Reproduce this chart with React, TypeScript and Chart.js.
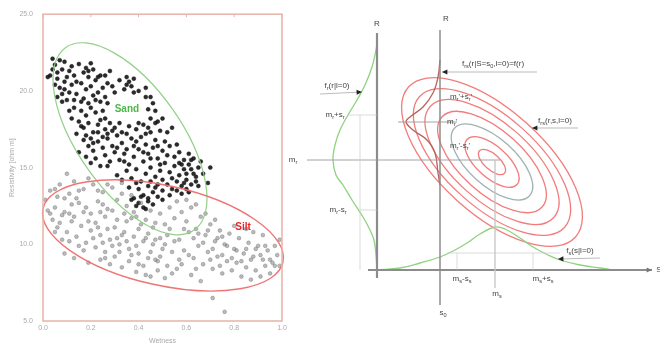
import React, { useEffect, useRef } from "react";
import { Chart, registerables } from "chart.js";
Chart.register(...registerables);

// ---------------- Left panel data ----------------
const X_TICKS = [0, 0.2, 0.4, 0.6, 0.8, 1.0];
const Y_TICKS = [5, 10, 15, 20, 25];
const X_TITLE = "Wetness";
const Y_TITLE = "Resistivity [ohm m]";

const SAND: number[][] = [
  [0.04,22.1],[0.05,21.7],[0.03,21.0],[0.06,20.8],[0.08,21.4],[0.07,20.2],[0.05,20.4],[0.09,21.9],[0.10,20.9],[0.11,21.3],
  [0.02,20.9],[0.08,19.8],[0.10,19.4],[0.06,19.6],[0.12,20.4],[0.09,20.6],[0.13,21.0],[0.04,21.4],[0.07,22.0],[0.11,19.9],
  [0.15,21.75],[0.17,21.2],[0.19,20.9],[0.21,21.4],[0.16,20.5],[0.18,20.1],[0.20,20.3],[0.22,20.7],[0.24,21.0],[0.14,19.8],
  [0.17,19.5],[0.19,19.2],[0.21,19.7],[0.23,19.9],[0.25,20.2],[0.13,18.9],[0.16,18.7],[0.18,18.4],[0.20,18.9],[0.22,18.6],
  [0.24,19.3],[0.15,18.0],[0.17,17.6],[0.19,17.9],[0.21,17.3],[0.23,17.8],[0.26,18.2],[0.14,17.2],[0.12,18.2],[0.25,17.0],
  [0.20,21.8],[0.18,21.5],[0.23,20.9],[0.26,19.6],[0.27,20.5],
  [0.28,21.3],[0.32,20.7],[0.35,20.9],[0.36,20.6],[0.37,20.3],[0.35,20.4],[0.40,20.0],[0.43,20.2],[0.45,19.6],[0.30,19.9],
  [0.38,19.9],[0.44,18.8],[0.47,18.7],[0.48,18.0],[0.29,20.3],
  [0.17,16.8],[0.19,16.4],[0.21,16.1],[0.23,16.7],[0.25,16.3],[0.27,16.9],[0.29,17.4],[0.31,17.1],[0.33,16.6],[0.35,17.2],
  [0.37,16.9],[0.39,17.5],[0.41,17.0],[0.43,16.5],[0.45,17.3],[0.47,16.8],[0.49,17.4],[0.15,16.0],[0.18,15.7],[0.20,15.3],
  [0.22,15.6],[0.24,15.1],[0.26,15.8],[0.28,15.4],[0.30,16.0],[0.32,15.5],[0.34,15.9],[0.36,15.2],[0.38,15.7],[0.40,16.2],
  [0.42,15.4],[0.44,15.9],[0.46,16.3],[0.48,15.6],[0.50,16.1],[0.28,17.9],[0.32,17.9],[0.36,17.7],[0.40,17.9],[0.44,17.6],
  [0.23,17.3],[0.26,17.5],[0.29,16.4],[0.35,16.2],[0.38,16.4],[0.50,18.2],[0.52,17.3],[0.54,17.6],[0.51,16.7],[0.53,16.4],
  [0.35,14.8],[0.37,14.3],[0.39,14.9],[0.41,14.1],[0.43,14.6],[0.45,15.0],[0.47,14.4],[0.49,14.8],[0.51,15.3],[0.53,14.7],
  [0.55,15.1],[0.57,14.5],[0.59,14.9],[0.61,15.2],[0.63,14.6],[0.65,15.0],[0.40,13.6],[0.42,13.2],[0.44,13.8],[0.46,13.4],
  [0.48,13.9],[0.50,13.5],[0.52,13.9],[0.54,13.6],[0.56,14.1],[0.58,13.8],[0.60,14.2],[0.62,13.9],[0.64,14.1],[0.55,15.7],
  [0.57,16.0],[0.59,15.5],[0.61,15.9],[0.63,15.6],[0.66,15.4],[0.70,15.0],[0.69,14.0],[0.33,14.2],[0.36,13.7],[0.31,14.5],
  [0.58,13.3],[0.60,13.6],
  [0.38,13.0],[0.40,12.7],[0.42,12.4],[0.44,12.8],[0.46,12.6],[0.41,13.1],[0.37,12.9],[0.48,13.1],[0.50,12.9],[0.43,12.3],
  [0.06,21.2],[0.09,20.1],[0.12,21.6],[0.14,20.6],[0.16,19.3],[0.19,21.3],[0.22,19.4],[0.24,18.1],[0.13,19.4],[0.18,17.1],
  [0.21,16.6],[0.25,18.7],[0.27,17.2],[0.30,17.6],[0.27,19.2],[0.34,20.1],[0.38,20.8],[0.43,19.6],[0.46,19.2],[0.45,18.2],
  [0.33,17.3],[0.39,16.7],[0.42,16.0],[0.45,15.6],[0.48,16.4],[0.52,15.8],[0.56,16.5],[0.58,15.2],[0.60,14.6],[0.62,15.5],
  [0.64,14.4],[0.67,14.6],[0.54,14.3],[0.50,14.2],[0.47,13.7],[0.45,14.1],[0.53,13.2],[0.56,13.5],[0.59,14.0],[0.61,13.4],
  [0.39,14.0],[0.34,15.4],[0.27,15.1],[0.31,16.3],[0.20,16.9],[0.16,17.7],[0.11,18.7],[0.08,19.3],[0.42,17.8],[0.43,17.2],
  [0.47,17.9],[0.26,21.0],[0.57,15.3],[0.49,15.2],[0.44,13.0],[0.39,12.5],[0.62,14.9],[0.65,13.8],
];

const SILT: number[][] = [
  [0.01,12.9],[0.03,13.5],[0.05,12.4],[0.07,13.9],[0.09,12.1],[0.11,13.3],[0.13,14.1],[0.15,12.7],[0.17,13.6],[0.19,14.3],
  [0.04,11.6],[0.06,11.1],[0.08,11.9],[0.10,10.8],[0.12,11.5],[0.14,10.5],[0.16,11.2],[0.18,10.1],[0.20,10.9],[0.02,12.2],
  [0.10,14.6],[0.14,13.0],[0.18,12.4],[0.06,13.1],[0.12,12.6],[0.09,9.4],[0.13,9.1],[0.17,9.6],[0.19,8.8],[0.08,10.3],
  [0.21,13.9],[0.23,12.8],[0.25,13.4],[0.27,12.3],[0.29,13.7],[0.31,12.9],[0.33,14.0],[0.35,12.5],[0.37,13.2],[0.39,11.8],
  [0.41,12.7],[0.43,11.6],[0.45,12.2],[0.47,11.4],[0.49,12.0],[0.51,11.3],[0.53,12.4],[0.55,11.7],[0.22,11.4],[0.24,10.6],
  [0.26,11.8],[0.28,10.3],[0.30,11.1],[0.32,10.0],[0.34,10.8],[0.36,9.7],[0.38,10.5],[0.40,9.4],[0.42,10.2],[0.44,9.1],
  [0.46,10.0],[0.48,8.9],[0.50,9.7],[0.52,8.6],[0.54,9.5],[0.22,9.8],[0.24,9.0],[0.26,9.5],[0.28,8.7],[0.30,9.2],
  [0.33,8.5],[0.36,8.9],[0.39,8.2],[0.42,8.6],[0.45,7.9],[0.48,8.3],[0.51,7.8],[0.54,8.1],[0.25,10.1],[0.31,10.4],
  [0.35,11.5],[0.40,11.0],[0.44,10.7],[0.27,13.9],[0.33,13.3],[0.38,12.1],[0.46,11.1],[0.52,10.6],[0.29,9.9],[0.37,9.3],
  [0.43,8.0],[0.49,10.4],[0.24,12.1],[0.20,12.0],[0.34,12.0],
  [0.56,12.8],[0.58,12.1],[0.60,11.5],[0.62,12.4],[0.64,11.0],[0.66,11.8],[0.68,10.6],[0.70,11.3],[0.72,10.2],[0.74,10.9],
  [0.76,10.0],[0.78,10.7],[0.80,9.7],[0.82,10.4],[0.84,9.4],[0.86,10.1],[0.88,9.2],[0.90,9.9],[0.92,9.0],[0.94,9.6],
  [0.96,8.8],[0.98,9.3],[0.99,8.6],[0.57,10.3],[0.59,9.6],[0.61,10.8],[0.63,9.1],[0.65,9.9],[0.67,8.7],[0.69,9.5],
  [0.71,8.4],[0.73,9.2],[0.75,8.1],[0.77,8.9],[0.79,8.3],[0.81,8.8],[0.83,7.9],[0.85,8.5],[0.87,7.7],[0.89,8.3],
  [0.91,7.9],[0.93,8.6],[0.95,8.1],[0.62,8.0],[0.66,7.6],[0.58,8.7],[0.97,9.9],[0.99,10.3],[0.72,11.6],[0.80,11.2],
  [0.68,12.0],[0.71,6.5],[0.76,5.6],[0.60,12.9],[0.64,12.6],[0.75,10.5],[0.85,11.0],[0.92,10.6],[0.88,10.8],
  [0.03,12.0],[0.05,13.6],[0.07,11.4],[0.09,13.0],[0.11,12.0],[0.13,11.8],[0.15,13.5],[0.17,12.1],[0.19,11.5],[0.21,10.4],
  [0.23,11.1],[0.25,12.6],[0.27,11.0],[0.29,12.2],[0.31,11.6],[0.33,10.6],[0.35,10.2],[0.37,11.7],[0.39,9.9],[0.41,11.3],
  [0.43,10.4],[0.45,9.5],[0.47,10.3],[0.49,9.2],[0.51,10.0],[0.53,11.0],[0.55,10.2],[0.57,9.0],[0.59,11.0],[0.61,9.3],
  [0.63,10.4],[0.65,10.7],[0.67,10.1],[0.69,10.9],[0.71,9.7],[0.73,10.4],[0.75,9.3],[0.77,9.9],[0.79,9.1],[0.81,9.6],
  [0.83,8.9],[0.85,9.7],[0.87,9.0],[0.89,9.7],[0.91,9.3],[0.93,9.9],[0.95,9.0],[0.97,8.6],[0.26,9.1],[0.32,9.5],
  [0.40,8.7],[0.47,9.0],[0.56,8.4],[0.64,8.4],[0.70,9.0],[0.74,8.6],[0.15,9.9],[0.11,10.2],[0.05,10.8],[0.23,13.5],
];

// ellipse = [center, major-axis vertex, co-vertex] in data units
const SAND_ELLIPSE: number[][] = [[0.364, 16.88], [0.633, 10.93], [0.186, 14.95]];
const SILT_ELLIPSE: number[][] = [[0.502, 10.58], [1.004, 8.83], [0.548, 13.75]];
const REGION_NAMES = ["Sand", "Silt"];
const REGION_LABEL_AT: number[][] = [[0.351, 18.8], [0.837, 11.1]];

// ---------------- Right panel (schematic) data, units: s (horizontal), r (vertical) ----------------
const FR_CURVE: number[][] = [
  [0, 22.7], [-0.1, 22.0], [-0.5, 20.3], [-1.2, 18.5], [-2.0, 17.0], [-2.9, 15.5], [-3.7, 14.0], [-4.2, 12.5],
  [-4.4, 11.0], [-4.1, 9.5], [-3.4, 8.5], [-2.5, 7.0], [-1.4, 5.3], [-0.7, 4.0], [-0.3, 3.0], [-0.1, 1.5], [0, 0],
];
const FS_CURVE: number[][] = [
  [0, 0], [2.3, 0.2], [4.3, 0.7], [6.3, 1.3], [7.8, 2.0], [9.0, 2.7], [10.3, 3.6], [11.8, 4.3], [12.8, 4.1],
  [14.3, 3.2], [15.6, 2.3], [17.1, 1.5], [18.3, 1.0], [20.3, 0.5], [22.3, 0.2], [23.8, 0],
];
const FRS_COND_CURVE: number[][] = [
  [6.3, 21.0], [6.1, 19.3], [5.6, 17.7], [4.6, 16.3], [3.3, 15.3], [2.9, 14.8], [3.6, 14.0], [5.0, 13.0],
  [5.8, 11.7], [6.1, 9.7], [6.3, 8.5],
];
const AXES: number[][][] = [
  [[0, -0.8], [0, 23.7]],
  [[6.3, -3.5], [6.3, 24.0]],
  [[-0.9, 0], [27.5, 0]],
];
const GUIDES_DARK: number[][][] = [
  [[-7.0, 11.0], [12.3, 11.0]],
  [[2.1, 14.8], [8.0, 14.8]],
];
const GUIDES_LIGHT: number[][][] = [
  [[11.8, 11.0], [11.8, -1.8]],
  [[-1.7, 0], [-1.7, 15.5]],
  [[-3.0, 15.5], [0, 15.5]],
  [[-1.7, 6.0], [0, 6.0]],
  [[7.0, 1.7], [18.3, 1.7]],
  [[8.0, 0], [8.0, 1.7]],
  [[15.6, 0], [15.6, 1.7]],
];
const CONTOUR_ELLIPSE: number[][] = [[11.5, 10.8], [19.85, 3.3], [14.98, 14.66]];
const CONTOUR_LEVELS = [1.0, 0.87, 0.74, 0.6, 0.45, 0.3, 0.15];
const CONTOUR_IS_GREY = [false, false, false, false, true, false, false];
// pointers: [from, to] (arrowhead at "to")
const POINTERS: number[][][] = [
  [[-5.7, 17.6], [-1.5, 17.8]],
  [[16.0, 19.8], [6.5, 19.8]],
  [[20.1, 14.2], [15.5, 14.2]],
  [[22.3, 1.2], [18.1, 1.1]],
];
const LABEL_TEXTS = [
  "R", "R", "S", "f_{r}(r|l=0)", "m_{r}+s_{r}", "m_{r}", "m_{r}-s_{r}",
  "f_{rs}(r|S=s_{0},l=0)=f(r)", "m_{r}'+s_{r}'", "m_{r}'", "m_{r}'-s_{r}'",
  "f_{rs}(r,s,l=0)", "f_{s}(s|l=0)", "m_{s}-s_{s}", "m_{s}", "m_{s}+s_{s}", "s_{0}",
];
const LABEL_AT: number[][] = [
  [0, 24.6], [6.9, 25.1], [28.2, 0], [-4.0, 18.4], [-4.2, 15.5], [-8.4, 11.0], [-3.9, 6.0],
  [11.6, 20.6], [8.4, 17.3], [7.5, 14.8], [8.3, 12.4],
  [17.8, 14.9], [20.3, 1.9], [8.5, -0.9], [12.0, -2.4], [16.6, -0.9], [6.6, -4.3],
];

const FONT = '"Liberation Sans", Arial, sans-serif';

function drawRich(ctx: CanvasRenderingContext2D, text: string, x: number, y: number, size: number, color: string) {
  const parts: { t: string; sub: boolean }[] = [];
  let i = 0;
  while (i < text.length) {
    if (text[i] === "_") {
      if (text[i + 1] === "{") {
        const j = text.indexOf("}", i);
        parts.push({ t: text.slice(i + 2, j), sub: true });
        i = j + 1;
      } else {
        parts.push({ t: text[i + 1], sub: true });
        i += 2;
      }
    } else {
      let j = i;
      while (j < text.length && text[j] !== "_") j++;
      parts.push({ t: text.slice(i, j), sub: false });
      i = j;
    }
  }
  const sub = size * 0.7;
  const widths = parts.map((p) => {
    ctx.font = `${p.sub ? sub : size}px ${FONT}`;
    return ctx.measureText(p.t).width;
  });
  const total = widths.reduce((a, b) => a + b, 0);
  let cx = x - total / 2;
  ctx.fillStyle = color;
  ctx.textBaseline = "middle";
  ctx.textAlign = "left";
  parts.forEach((p, k) => {
    ctx.font = `${p.sub ? sub : size}px ${FONT}`;
    ctx.fillText(p.t, cx, p.sub ? y + size * 0.3 : y);
    cx += widths[k];
  });
}

function strokeEllipse(chart: any, e: number[][], f: number, color: string, width: number) {
  const xs = chart.scales.x, ys = chart.scales.y, ctx = chart.ctx;
  const cx = xs.getPixelForValue(e[0][0]), cy = ys.getPixelForValue(e[0][1]);
  const mx = xs.getPixelForValue(e[1][0]) - cx, my = ys.getPixelForValue(e[1][1]) - cy;
  const nx = xs.getPixelForValue(e[2][0]) - cx, ny = ys.getPixelForValue(e[2][1]) - cy;
  ctx.save();
  ctx.beginPath();
  ctx.ellipse(cx, cy, Math.hypot(mx, my) * f, Math.hypot(nx, ny) * f, Math.atan2(my, mx), 0, Math.PI * 2);
  ctx.strokeStyle = color;
  ctx.lineWidth = width;
  ctx.stroke();
  ctx.restore();
}

function arrowHead(ctx: CanvasRenderingContext2D, x1: number, y1: number, x2: number, y2: number, len: number, color: string) {
  const a = Math.atan2(y2 - y1, x2 - x1);
  ctx.save();
  ctx.fillStyle = color;
  ctx.beginPath();
  ctx.moveTo(x2, y2);
  ctx.lineTo(x2 - len * Math.cos(a - 0.45), y2 - len * Math.sin(a - 0.45));
  ctx.lineTo(x2 - len * Math.cos(a + 0.45), y2 - len * Math.sin(a + 0.45));
  ctx.closePath();
  ctx.fill();
  ctx.restore();
}

const leftPlugin = {
  id: "leftDecor",
  afterDatasetsDraw(chart: any) {
    const { ctx, chartArea } = chart;
    strokeEllipse(chart, SAND_ELLIPSE, 1, "rgba(140,205,130,0.95)", 1.2);
    strokeEllipse(chart, SILT_ELLIPSE, 1, "rgba(238,110,110,0.95)", 1.4);
    const xs = chart.scales.x, ys = chart.scales.y;
    const colors = ["#4db848", "#e3262a"];
    REGION_NAMES.forEach((n, k) => {
      ctx.save();
      ctx.font = `bold 10px ${FONT}`;
      ctx.fillStyle = colors[k];
      ctx.textAlign = "center";
      ctx.textBaseline = "middle";
      ctx.fillText(n, xs.getPixelForValue(REGION_LABEL_AT[k][0]), ys.getPixelForValue(REGION_LABEL_AT[k][1]));
      ctx.restore();
    });
    ctx.save();
    ctx.strokeStyle = "#e6b3a8";
    ctx.lineWidth = 1.5;
    ctx.strokeRect(chartArea.left, chartArea.top, chartArea.right - chartArea.left, chartArea.bottom - chartArea.top);
    ctx.lineWidth = 1;
    X_TICKS.forEach((v) => {
      const px = xs.getPixelForValue(v);
      ctx.beginPath();
      ctx.moveTo(px, chartArea.top);
      ctx.lineTo(px, chartArea.top + 3);
      ctx.stroke();
    });
    ctx.restore();
  },
};

const rightPlugin = {
  id: "rightDecor",
  beforeDatasetsDraw(chart: any) {
    CONTOUR_LEVELS.forEach((f, k) => {
      strokeEllipse(chart, CONTOUR_ELLIPSE, f, CONTOUR_IS_GREY[k] ? "rgba(150,170,170,0.9)" : "rgba(240,110,110,0.9)", 1.3);
    });
  },
  afterDatasetsDraw(chart: any) {
    const xs = chart.scales.x, ys = chart.scales.y, ctx = chart.ctx;
    POINTERS.forEach((p) => {
      arrowHead(ctx, xs.getPixelForValue(p[0][0]), ys.getPixelForValue(p[0][1]), xs.getPixelForValue(p[1][0]), ys.getPixelForValue(p[1][1]), 6, "#222");
    });
    const s = AXES[2];
    arrowHead(ctx, xs.getPixelForValue(s[0][0]), ys.getPixelForValue(s[0][1]), xs.getPixelForValue(s[1][0]), ys.getPixelForValue(s[1][1]), 6, "#777");
    LABEL_TEXTS.forEach((t, k) => {
      drawRich(ctx, t, xs.getPixelForValue(LABEL_AT[k][0]), ys.getPixelForValue(LABEL_AT[k][1]), 8, "#444");
    });
  },
};

function seg(points: number[][], color: string, width: number, tension = 0) {
  return {
    data: points.map((p) => ({ x: p[0], y: p[1] })),
    showLine: true,
    borderColor: color,
    borderWidth: width,
    pointRadius: 0,
    tension,
    fill: false,
  };
}

export default function App() {
  const leftRef = useRef<HTMLCanvasElement>(null);
  const rightRef = useRef<HTMLCanvasElement>(null);

  useEffect(() => {
    const tickFont = { size: 7, family: FONT };
    const left = new Chart(leftRef.current!, {
      type: "scatter",
      data: {
        datasets: [
          {
            data: SILT.map((p) => ({ x: p[0], y: p[1] })),
            backgroundColor: "rgba(120,120,120,0.5)",
            borderColor: "rgba(100,100,100,0.6)",
            borderWidth: 0.6,
            pointRadius: 1.9,
          },
          {
            data: SAND.map((p) => ({ x: p[0], y: p[1] })),
            backgroundColor: "rgba(20,20,20,0.9)",
            borderColor: "rgba(20,20,20,0.9)",
            borderWidth: 0.5,
            pointRadius: 2,
          },
        ],
      },
      options: {
        animation: false,
        responsive: false,
        devicePixelRatio: 1,
        layout: { padding: { top: 13, right: 18, left: 0, bottom: 0 }, autoPadding: false },
        plugins: { legend: { display: false }, tooltip: { enabled: false } },
        scales: {
          x: {
            type: "linear",
            min: 0,
            max: 1,
            afterBuildTicks: (s: any) => { s.ticks = X_TICKS.map((v) => ({ value: v })); },
            afterFit: (s: any) => { s.height = 24; },
            ticks: { callback: (v: any) => Number(v).toFixed(1), font: tickFont, color: "#aaa", padding: 3, maxRotation: 0 },
            grid: { display: false, drawTicks: false },
            border: { display: false },
            title: { display: true, text: X_TITLE, font: tickFont, color: "#aaa", padding: { top: 1, bottom: 0 } },
          },
          y: {
            type: "linear",
            min: 5,
            max: 25,
            afterBuildTicks: (s: any) => { s.ticks = Y_TICKS.map((v) => ({ value: v })); },
            afterFit: (s: any) => { s.width = 43; },
            ticks: { callback: (v: any) => Number(v).toFixed(1), font: tickFont, color: "#aaa", padding: 10 },
            grid: { display: false, drawTicks: false },
            border: { display: false },
            title: { display: true, text: Y_TITLE, font: tickFont, color: "#aaa", padding: { top: 8, bottom: 0 } },
          },
        },
      },
      plugins: [leftPlugin],
    } as any);

    const right = new Chart(rightRef.current!, {
      type: "scatter",
      data: {
        datasets: [
          ...GUIDES_LIGHT.map((g) => seg(g, "rgba(200,200,200,0.8)", 0.8)),
          ...GUIDES_DARK.map((g) => seg(g, "#9a9a9a", 0.9)),
          ...POINTERS.map((g) => seg(g, "#aaa", 0.8)),
          seg(AXES[0], "#8c8c8c", 2.2),
          seg(AXES[1], "#8c8c8c", 1.5),
          seg(AXES[2], "#8c8c8c", 2),
          seg(FR_CURVE, "#8fd27f", 1.3, 0.4),
          seg(FS_CURVE, "#8fd27f", 1.3, 0.4),
          seg(FRS_COND_CURVE, "#b8625a", 1.3, 0.4),
        ],
      },
      options: {
        animation: false,
        responsive: false,
        devicePixelRatio: 1,
        layout: { padding: 0, autoPadding: false },
        plugins: { legend: { display: false }, tooltip: { enabled: false } },
        scales: {
          x: { type: "linear", min: -9.3, max: 28.3, display: false },
          y: { type: "linear", min: -7.5, max: 27.0, display: false },
        },
      },
      plugins: [rightPlugin],
    } as any);

    return () => {
      left.destroy();
      right.destroy();
    };
  }, []);

  return (
    <div style={{ position: "fixed", left: 0, top: 0, width: 660, height: 345, background: "#fff", overflow: "hidden" }}>
      <canvas ref={leftRef} width={300} height={345} style={{ position: "absolute", left: 0, top: 0, width: 300, height: 345 }} />
      <canvas ref={rightRef} width={376} height={345} style={{ position: "absolute", left: 284, top: 0, width: 376, height: 345 }} />
    </div>
  );
}
